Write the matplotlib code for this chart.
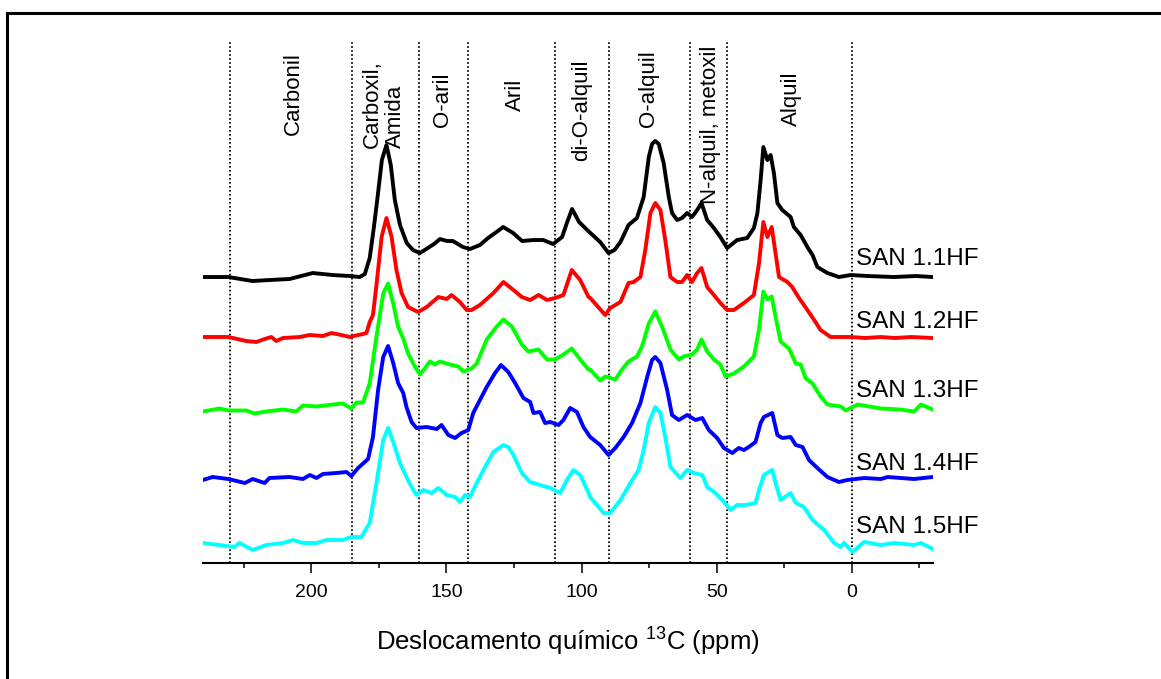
import matplotlib
matplotlib.use("Agg")
import matplotlib.pyplot as plt
from matplotlib.lines import Line2D
from matplotlib.ticker import MultipleLocator

plt.rcParams['font.family'] = ['Liberation Sans', 'DejaVu Sans']
plt.rcParams['mathtext.fontset'] = 'custom'
plt.rcParams['mathtext.rm'] = 'Liberation Sans'

# 13C CP/MAS spectra: chemical shift (ppm) and intensity (a.u., baseline = 0)
ppm_11 = [240.0, 230.7, 221.8, 215.5, 208.1, 199.5, 192.1, 185.8, 182.1, 180.2, 178.4, 176.9,
          175.4, 173.9, 172.2, 170.6, 169.1, 167.2, 164.7, 162.4, 159.8, 156.9, 154.6, 152.4,
          149.8, 147.6, 143.9, 141.3, 137.6, 134.6, 132.0, 129.0, 125.3, 122.0, 117.9, 114.2,
          110.5, 107.2, 105.3, 103.5, 100.9, 97.9, 93.1, 90.0, 87.8, 85.6, 82.6, 79.5, 77.0,
          75.1, 73.9, 72.7, 71.4, 69.6, 67.7, 66.5, 64.6, 62.8, 60.9, 59.1, 57.2, 55.6, 53.5, 51.0,
          48.6, 46.1, 42.4, 38.7, 36.2, 34.9, 33.7, 32.7, 31.2, 30.0, 28.8, 27.5, 25.7, 22.6,
          21.4, 18.9, 16.4, 14.5, 12.7, 9.0, 4.7, 0.3, -5.9, -15.6, -23.8, -30.0]
int_11 = [0, 0, -4, -3, -2, 4, 2, 1, 0, 3, 19, 49,
          82, 117, 132, 112, 77, 52, 34, 27, 24, 29, 33, 38,
          36, 36, 30, 28, 32, 39, 44, 50, 44, 36, 37, 37,
          33, 40, 55, 68, 55, 47, 35, 24, 27, 35, 52, 59, 80,
          120, 133, 136, 133, 114, 80, 64, 57, 59, 64, 60, 67, 74, 57, 49,
          40, 29, 37, 39, 49, 64, 97, 130, 117, 122, 104, 74, 67, 60,
          50, 42, 30, 22, 10, 4, 0, 2, 1, 0, 1, 0]

ppm_12 = [240.2, 230.7, 224.1, 220.4, 217.3, 214.8, 213.0, 210.5, 204.3, 200.6, 195.7, 192.6,
          188.9, 185.8, 182.7, 180.9, 179.6, 178.4, 177.2, 175.9, 174.0, 172.2, 170.3, 168.5,
          166.6, 164.2, 160.5, 157.3, 153.0, 149.9, 148.1, 145.0, 142.5, 140.7, 137.6, 132.6,
          128.9, 125.2, 122.1, 119.0, 115.9, 112.8, 109.8, 106.7, 103.6, 100.5, 97.4, 96.8,
          91.2, 89.4, 85.6, 82.6, 80.7, 78.2, 76.4, 74.5, 72.7, 70.8, 69.0, 67.1, 64.6, 62.8,
          60.9, 59.1, 57.2, 55.6, 53.5, 51.0, 48.6, 46.1, 43.6, 39.9, 36.2, 34.3, 32.7, 31.2,
          29.6, 28.2, 26.9, 23.8, 22.0, 19.5, 16.4, 13.9, 11.5, 7.8, 4.0, 0.3, -5.0, -10.8,
          -16.0, -22.0, -30.0]
int_12 = [1, 1, -3, -4, -1, 1, -3, 0, 1, 3, 2, 5,
          3, 1, 3, 4, 5, 16, 23, 53, 101, 120, 101, 68,
          45, 31, 26, 31, 41, 39, 43, 36, 28, 28, 33, 45,
          56, 48, 41, 38, 43, 38, 40, 43, 68, 58, 41, 40,
          23, 30, 36, 55, 56, 61, 88, 125, 135, 128, 98, 61, 56, 56,
          63, 56, 65, 70, 51, 43, 35, 28, 28, 35, 43, 75, 116, 101,
          111, 85, 61, 56, 51, 40, 28, 18, 8, 1, 1, 1, 0, 1,
          0, 1, 0]

ppm_13 = [240.2, 234.0, 230.7, 224.1, 221.0, 216.7, 210.5, 205.6, 203.1, 198.1, 192.0, 188.3,
          185.2, 183.3, 180.9, 178.4, 175.9, 173.4, 171.6, 169.7, 167.9, 166.0, 164.2, 161.7,
          159.8, 158.0, 156.1, 154.3, 152.4, 148.7, 145.6, 143.8, 140.7, 138.8, 135.1, 131.4,
          128.9, 125.8, 122.1, 119.7, 115.9, 112.8, 109.8, 106.7, 103.6, 100.5, 97.4, 96.8,
          93.1, 91.2, 87.5, 85.0, 82.6, 79.5, 77.6, 75.1, 72.7, 70.2, 67.1, 64.0, 62.2, 59.1,
          57.2, 55.6, 53.5, 51.0, 48.6, 46.7, 43.6, 39.9, 36.2, 34.3, 32.7, 31.2, 29.6, 28.2,
          26.3, 23.2, 20.7, 18.9, 17.0, 14.5, 11.5, 9.0, 4.0, 2.2, -2.2, -10.8, -18.0, -23.1,
          -25.6, -30.0]
int_13 = [-2, 1, -1, -1, -4, -2, 0, -2, 4, 3, 5, 6,
          1, 7, 7, 26, 73, 116, 126, 106, 83, 71, 56, 43,
          35, 41, 48, 45, 48, 45, 43, 38, 41, 46, 70, 83,
          90, 83, 65, 58, 60, 50, 50, 55, 61, 50, 40, 40,
          29, 33, 30, 40, 48, 53, 63, 86, 98, 83, 60, 50, 53, 55,
          60, 70, 58, 50, 45, 33, 36, 43, 53, 80, 118, 110, 113, 93,
          68, 61, 46, 45, 31, 26, 13, 5, 3, -1, 5, 1, 0, -2,
          5, 0]

ppm_14 = [240.2, 236.5, 230.7, 224.6, 221.7, 217.3, 215.5, 208.1, 203.1, 200.6, 198.1, 195.7,
          190.7, 187.0, 185.2, 182.7, 179.0, 177.2, 175.3, 173.4, 171.6, 169.7, 167.9, 166.0,
          164.8, 162.9, 161.1, 157.3, 153.6, 151.8, 149.3, 146.8, 144.4, 141.9, 140.1, 137.6,
          135.1, 132.0, 129.8, 127.1, 124.6, 121.5, 119.0, 117.8, 115.3, 113.5, 111.6, 108.5,
          106.7, 104.2, 101.7, 99.3, 96.8, 93.1, 90.0, 87.5, 84.4, 81.3, 78.2, 75.7, 73.9, 72.7,
          70.8, 68.3, 66.5, 64.0, 60.9, 57.8, 55.3, 52.9, 49.8, 47.3, 44.2, 41.8, 39.9, 38.1,
          35.6, 33.7, 32.5, 29.4, 27.5, 25.7, 22.6, 20.7, 18.2, 15.8, 12.7, 9.0, 4.7, 1.6,
          -4.6, -10.8, -13.3, -23.1, -30.0]
int_14 = [-1, 2, 0, -4, 0, -4, 1, 2, 0, 4, 1, 5,
          6, 7, 3, 11, 20, 42, 89, 122, 133, 116, 96, 86,
          72, 57, 51, 52, 50, 54, 44, 41, 46, 49, 66, 79,
          92, 106, 114, 107, 96, 81, 77, 66, 67, 56, 57, 54,
          59, 71, 67, 52, 42, 34, 24, 31, 42, 56, 76, 102, 119, 122,
          116, 89, 64, 59, 64, 59, 61, 49, 41, 31, 26, 31, 29, 32,
          37, 56, 62, 66, 44, 41, 42, 34, 32, 19, 11, 2, -3, -1,
          1, 0, 2, 0, 2]

ppm_15 = [240.2, 234.0, 228.5, 226.6, 221.7, 216.7, 210.5, 206.8, 203.1, 198.1, 194.4, 188.3,
          185.2, 181.5, 178.4, 175.9, 173.4, 171.6, 169.7, 167.2, 164.8, 162.9, 161.1, 158.6,
          155.5, 153.0, 149.9, 146.8, 145.0, 143.1, 141.3, 138.8, 135.7, 132.6, 128.9, 127.1,
          125.2, 122.1, 119.0, 115.3, 111.6, 107.9, 105.4, 103.0, 100.5, 97.4, 96.8, 91.8,
          89.4, 85.6, 81.9, 78.9, 77.0, 75.1, 72.7, 70.8, 69.0, 67.1, 63.4, 60.9, 58.5, 55.3,
          53.5, 50.4, 47.9, 44.8, 42.4, 39.3, 35.6, 34.3, 32.5, 29.4, 28.2, 26.3, 22.6, 20.7,
          17.7, 14.5, 10.2, 6.5, 4.0, 2.8, -0.3, -4.6, -10.8, -15.7, -23.1, -25.6, -30.0]
int_15 = [2, 0, -2, 2, -5, 0, 2, 5, 2, 2, 5, 5,
          8, 8, 22, 62, 105, 117, 103, 82, 68, 58, 50, 55,
          52, 57, 50, 48, 43, 50, 48, 62, 78, 93, 100, 98,
          90, 72, 63, 60, 57, 52, 65, 75, 70, 52, 48, 32,
          32, 45, 62, 75, 95, 122, 138, 132, 108, 78, 67, 75, 72, 70,
          58, 52, 45, 35, 40, 40, 42, 55, 70, 75, 62, 45, 52, 42,
          38, 25, 15, 2, -2, 2, -7, 3, 0, 2, 0, 2, -4]

samples = ['SAN 1.1HF', 'SAN 1.2HF', 'SAN 1.3HF', 'SAN 1.4HF', 'SAN 1.5HF']
shifts = [ppm_11, ppm_12, ppm_13, ppm_14, ppm_15]
intensities = [int_11, int_12, int_13, int_14, int_15]
colors = ['#000000', '#ff0000', '#00ff00', '#0000ff', '#00ffff']
offsets = [286.3, 225.3, 153.8, 84.3, 18.3]
name_y = [298.3, 235.0, 166.6, 93.3, 30.3]

# functional-group regions of the 13C spectrum
region_bounds = [230, 185, 160, 142, 110, 90, 60, 46, 0]
region_names = ['Carbonil', 'Carboxil,\nAmida', 'O-aril', 'Aril', 'di-O-alquil',
                'O-alquil', 'N-alquil, metoxil', 'Alquil']
region_x = [206.6, 173.2, 151.5, 124.6, 99.8, 75.3, 52.3, 22.2]
region_y = [469.3, 415.3, 463.3, 468.3, 453.3, 474.3, 438.3, 464.8]
region_va = ['center', 'bottom', 'center', 'center', 'center', 'center', 'center', 'center']

fig = plt.figure(figsize=(11.61, 6.79), dpi=100)
ax = fig.add_axes([0.1751, 0.1704, 0.6283, 0.7677])

for b in region_bounds:
    ax.axvline(b, color='black', lw=1.25, linestyle=(0, (1, 1.3)), zorder=1)

for x, y, off, c, name, ny in zip(shifts, intensities, offsets, colors, samples, name_y):
    ax.plot(x, [v + off for v in y], color=c, lw=2.8, solid_joinstyle='round',
            solid_capstyle='round', zorder=3)
    ax.text(-1.5, ny, name, fontsize=17.5, ha='left', va='baseline', zorder=4)

for name, x, y, va in zip(region_names, region_x, region_y, region_va):
    ax.text(x, y, name, rotation=90, fontsize=16, ha='center', va=va,
            multialignment='left', linespacing=1.15)

ax.set_xlim(240, -30)
ax.set_ylim(0, 521.3)
for s in ('left', 'right', 'top'):
    ax.spines[s].set_visible(False)
ax.spines['bottom'].set_linewidth(1.5)
ax.set_yticks([])
ax.xaxis.set_major_locator(MultipleLocator(50))
ax.xaxis.set_minor_locator(MultipleLocator(25))
ax.tick_params(axis='x', which='major', direction='out', length=7.2, width=1.1,
               pad=8, labelsize=14)
ax.tick_params(axis='x', which='minor', direction='out', length=3.6, width=1.1)
ax.set_xlabel('Deslocamento químico $^{13}$C (ppm)', fontsize=18.5)
ax.xaxis.set_label_coords(0.5, -0.116)

# outer frame (left and top edges)
fig.add_artist(Line2D([0.0058, 0.0058], [0.0, 0.981], transform=fig.transFigure,
                      color='black', lw=2.2))
fig.add_artist(Line2D([0.0058, 1.0], [0.981, 0.981], transform=fig.transFigure,
                      color='black', lw=2.2))

fig.savefig('out.png', dpi=100)
